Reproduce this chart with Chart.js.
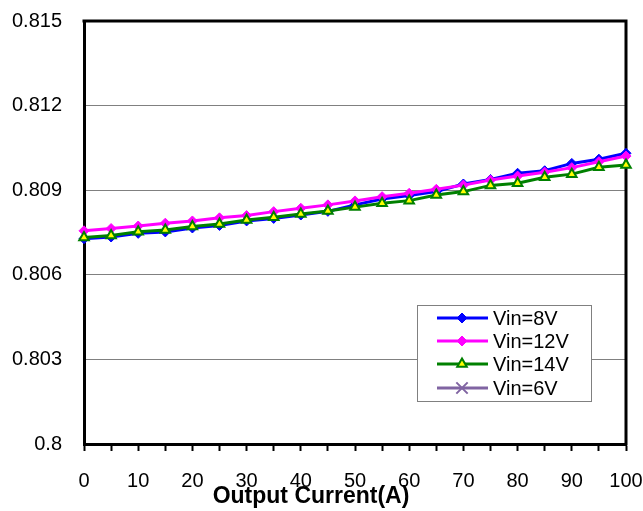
<!DOCTYPE html>
<html>
<head>
<meta charset="utf-8">
<script src="https://cdn.jsdelivr.net/npm/chart.js@4.4.0/dist/chart.umd.min.js"></script>
<style>
  html, body { margin: 0; padding: 0; background: #fff; }
  #wrap { width: 643px; height: 511px; }
</style>
</head>
<body>
<div id="wrap"><canvas id="eff" width="643" height="511"></canvas></div>
<script>
// Efficiency vs output current, one series per input voltage
var xLabels = ['0', '5', '10', '15', '20', '25', '30', '35', '40', '45', '50',
               '55', '60', '65', '70', '75', '80', '85', '90', '95', '100'];

var vin8 = [0.80728, 0.80734, 0.80747, 0.80752, 0.80766, 0.80775, 0.80791, 0.80800, 0.80812, 0.80825, 0.80848,
            0.80869, 0.80881, 0.80895, 0.80922, 0.80938, 0.80960, 0.80969, 0.80995, 0.81010, 0.81031];
var vin12 = [0.80756, 0.80764, 0.80773, 0.80783, 0.80791, 0.80802, 0.80810, 0.80824, 0.80836, 0.80848, 0.80862,
             0.80877, 0.80889, 0.80903, 0.80918, 0.80936, 0.80950, 0.80964, 0.80980, 0.81001, 0.81021];
var vin14 = [0.80732, 0.80739, 0.80753, 0.80759, 0.80771, 0.80780, 0.80794, 0.80804, 0.80816, 0.80826, 0.80840,
             0.80854, 0.80863, 0.80883, 0.80895, 0.80917, 0.80925, 0.80946, 0.80957, 0.80981, 0.80989];
var vin6 = [];

var yTicks = [0.8, 0.803, 0.806, 0.809, 0.812, 0.815];
var yTickLabels = ['0.8', '0.803', '0.806', '0.809', '0.812', '0.815'];
var xTitle = 'Output Current(A)';

var FONT = '"Liberation Sans", Arial, sans-serif';

function series(label, values, color, style, fill, radius, order) {
    return {
        label: label,
        data: values,
        borderColor: color,
        backgroundColor: fill,
        borderWidth: 3,
        pointStyle: style,
        pointRadius: radius,
        pointBorderWidth: style === 'rectRot' ? 1 : 2,
        pointBorderColor: color,
        pointBackgroundColor: fill,
        tension: 0,
        clip: false,
        order: order
    };
}

// Outer frame (top/right), in-plot legend and the x axis title
var framePlugin = {
    id: 'framePlugin',
    beforeDatasetsDraw: function (chart) {
        var a = chart.chartArea, ctx = chart.ctx;
        ctx.save();
        ctx.strokeStyle = '#000';
        ctx.lineWidth = 3;
        ctx.beginPath();
        ctx.moveTo(a.left - 1.5, a.top);
        ctx.lineTo(a.right, a.top);
        ctx.lineTo(a.right, a.bottom + 1.5);
        ctx.stroke();
        ctx.restore();
    },
    afterDraw: function (chart) {
        var a = chart.chartArea, ctx = chart.ctx;
        var bx = a.right - 209, by = a.bottom - 139, bw = 174, bh = 96;
        ctx.save();
        ctx.fillStyle = '#fff';
        ctx.fillRect(bx, by, bw, bh);
        ctx.strokeStyle = '#808080';
        ctx.lineWidth = 1;
        ctx.strokeRect(bx + 0.5, by + 0.5, bw, bh);

        var rows = [13, 36, 59, 83];
        chart.data.datasets.forEach(function (ds, i) {
            var y = by + rows[i];
            ctx.strokeStyle = ds.borderColor;
            ctx.lineWidth = 3;
            ctx.beginPath();
            ctx.moveTo(bx + 20, y);
            ctx.lineTo(bx + 71, y);
            ctx.stroke();
            ctx.fillStyle = ds.pointBackgroundColor;
            ctx.lineWidth = ds.pointBorderWidth;
            Chart.helpers.drawPoint(ctx, {
                pointStyle: ds.pointStyle,
                radius: ds.pointRadius,
                rotation: 0,
                borderWidth: ds.pointBorderWidth
            }, bx + 45, y);
            ctx.fillStyle = '#000';
            ctx.font = '20px ' + FONT;
            ctx.textAlign = 'left';
            ctx.textBaseline = 'middle';
            ctx.fillText(ds.label, bx + 76, y + 1);
        });

        ctx.fillStyle = '#000';
        ctx.font = 'bold 23px ' + FONT;
        ctx.textAlign = 'center';
        ctx.textBaseline = 'middle';
        ctx.fillText(xTitle, a.left + 227, a.bottom + 53);
        ctx.restore();
    }
};

new Chart(document.getElementById('eff'), {
    type: 'line',
    data: {
        labels: xLabels,
        datasets: [
            series('Vin=8V', vin8, '#0000FF', 'rectRot', '#0000FF', 5, 4),
            series('Vin=12V', vin12, '#FF00FF', 'rectRot', '#FF00FF', 5, 3),
            series('Vin=14V', vin14, '#008000', 'triangle', '#FFFF00', 5.5, 2),
            series('Vin=6V', vin6, '#8064A2', 'crossRot', '#8064A2', 8, 1)
        ]
    },
    options: {
        responsive: false,
        animation: false,
        layout: { padding: { top: 21, right: 17, left: 0, bottom: 0 } },
        plugins: {
            legend: { display: false },
            tooltip: { enabled: false },
            title: { display: false }
        },
        scales: {
            x: {
                type: 'category',
                offset: false,
                afterFit: function (scale) {
                    scale.height = 67;
                    scale.paddingLeft = 0;
                    scale.paddingRight = 0;
                },
                ticks: {
                    autoSkip: false,
                    maxRotation: 0,
                    padding: 18,
                    color: '#000',
                    font: { family: FONT, size: 20 },
                    callback: function (v, i) { return i % 2 === 0 ? xLabels[i] : ''; }
                },
                grid: {
                    drawOnChartArea: false,
                    drawTicks: true,
                    tickLength: 7,
                    tickColor: '#000',
                    tickWidth: 2
                },
                border: { display: true, color: '#000', width: 3 }
            },
            y: {
                min: yTicks[0],
                max: yTicks[yTicks.length - 1],
                afterFit: function (scale) {
                    scale.width = 84;
                    scale.paddingTop = 0;
                    scale.paddingBottom = 0;
                },
                afterBuildTicks: function (scale) {
                    scale.ticks = yTicks.map(function (v) { return { value: v }; });
                },
                ticks: {
                    padding: 22,
                    color: '#000',
                    font: { family: FONT, size: 20 },
                    callback: function (v, i) { return yTickLabels[i]; }
                },
                grid: {
                    color: '#808080',
                    lineWidth: 1,
                    drawTicks: false
                },
                border: { display: true, color: '#000', width: 3 }
            }
        }
    },
    plugins: [framePlugin]
});
</script>
</body>
</html>
